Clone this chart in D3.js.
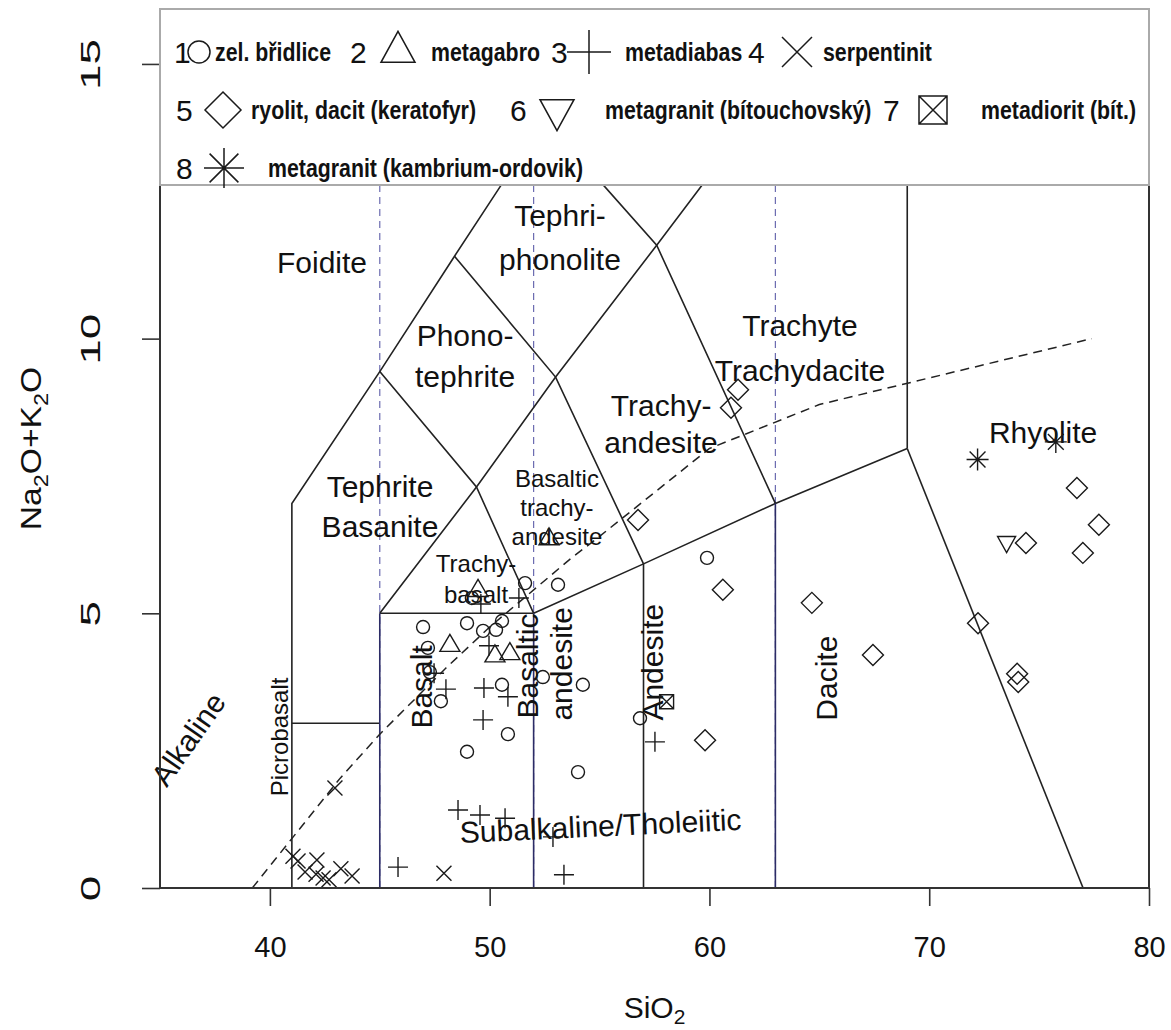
<!DOCTYPE html>
<html><head><meta charset="utf-8">
<script src="https://cdn.jsdelivr.net/npm/d3@7"></script>
<style>
html,body{margin:0;padding:0;background:#fff;}
svg{display:block;}
text{font-family:"Liberation Sans",Arial,Helvetica,sans-serif;fill:#111;}
</style></head><body>
<svg id="chart" width="1171" height="1030"></svg>
<script>
// TAS (total alkali vs. silica) diagram with metamorphic rock samples

const xTicks = [40, 50, 60, 70, 80];
const yTicks = [0, 5, 10, 15];

// field boundaries as [SiO2, Na2O+K2O] polylines
const fieldLines = [
  [[41,0],[41,7],[45,9.4],[48.4,11.5],[52.5,14]],
  [[41,3],[45,3]],
  [[45,5],[52,5]],
  [[45,5],[49.4,7.3],[53,9.3],[57.6,11.7],[61,13.5],[63,14.56]],
  [[45,9.4],[49.4,7.3],[52,5]],
  [[48.4,11.5],[53,9.3],[57,5.9]],
  [[52.5,14],[57.6,11.7],[63,7]],
  [[52,5],[57,5.9],[63,7],[69,8]],
  [[57,0],[57,5.9]],
  [[69,8],[69,16]],
  [[69,8],[77,0]]
];
const navyLines = [
  [[45,0],[45,5]],
  [[52,0],[52,5]],
  [[63,0],[63,7]]
];
const guideSiO2 = [45, 52, 63];
// alkaline / subalkaline divide
const alkDivide = [[39.2,0],[40,0.4],[43.2,2],[45,2.8],[48,4],[50,4.75],[53.7,6],[55,6.4],[60,8],[65,8.8],[77.4,10]];

// samples
const zelBridlice = [[51.61,5.55],[53.11,5.52],[49.19,5.28],[46.97,4.75],[48.97,4.82],[49.70,4.68],[50.29,4.70],[50.56,4.86],[47.19,4.37],[47.28,3.93],[47.78,3.40],[50.56,3.70],[52.42,3.84],[54.24,3.70],[50.83,2.80],[48.97,2.48],[54.02,2.11],[59.89,6.01],[56.84,3.09]];
const metagabro = [[49.47,5.41],[48.19,4.41],[50.24,4.22],[50.92,4.26],[52.70,6.35]];
const metadiabas = [[49.60,5.17],[51.33,5.28],[49.97,4.41],[47.47,3.91],[48.01,3.62],[49.74,3.64],[50.83,3.48],[49.70,3.06],[48.56,1.42],[49.56,1.33],[50.70,1.27],[52.88,0.93],[45.83,0.38],[53.38,0.24],[57.52,2.66]];
const serpentinit = [[42.96,1.82],[41.05,0.58],[41.28,0.49],[41.60,0.29],[42.14,0.51],[42.10,0.25],[42.42,0.18],[42.69,0.15],[43.23,0.35],[43.74,0.22],[47.92,0.27]];
const keratofyr = [[61.30,9.07],[60.98,8.74],[56.75,6.70],[60.61,5.43],[64.66,5.19],[67.44,4.24],[59.80,2.69],[76.72,7.28],[77.72,6.61],[74.40,6.28],[76.99,6.10],[72.22,4.82],[74.00,3.90],[74.05,3.75]];
const metagranitBit = [[73.52,6.30]];
const metadiorit = [[58.05,3.39]];
const metagranitKO = [[72.20,7.80],[75.76,8.12]];

const regionLabels = [
  {t:"Foidite", x:42.37, y:11.20, s:30},
  {t:"Tephri-", x:53.2, y:12.05, s:30},
  {t:"phonolite", x:53.2, y:11.25, s:30},
  {t:"Phono-", x:48.88, y:9.87, s:30},
  {t:"tephrite", x:48.88, y:9.12, s:30},
  {t:"Trachyte", x:64.12, y:10.05, s:30},
  {t:"Trachydacite", x:64.12, y:9.23, s:30},
  {t:"Trachy-", x:57.80, y:8.59, s:30},
  {t:"andesite", x:57.80, y:7.92, s:30},
  {t:"Rhyolite", x:75.18, y:8.10, s:30},
  {t:"Tephrite", x:45.01, y:7.12, s:30},
  {t:"Basanite", x:45.01, y:6.39, s:30},
  {t:"Basaltic", x:53.06, y:7.30, s:24},
  {t:"trachy-", x:53.06, y:6.77, s:24},
  {t:"andesite", x:53.06, y:6.24, s:24},
  {t:"Trachy-", x:49.38, y:5.75, s:24},
  {t:"basalt", x:49.38, y:5.19, s:24},
  {t:"Picrobasalt", x:40.82, y:2.75, s:24, r:-90},
  {t:"Basalt", x:47.38, y:3.66, s:30, r:-90},
  {t:"Basaltic", x:52.20, y:4.04, s:30, r:-90},
  {t:"andesite", x:53.75, y:4.08, s:30, r:-90},
  {t:"Andesite", x:57.89, y:4.11, s:30, r:-90},
  {t:"Dacite", x:65.80, y:3.82, s:30, r:-90},
  {t:"Subalkaline/Tholeiitic", x:55.07, y:0.94, s:30, r:-2.7},
  {t:"Alkaline", x:36.68, y:2.60, s:30, r:-55}
];

const svg = d3.select("#chart");
const x = d3.scaleLinear().domain([35, 80]).range([160, 1149]);
const y = d3.scaleLinear().domain([0, 16]).range([888, 9]);
const line = d3.line().x(d => x(d[0])).y(d => y(d[1]));
const ink = "#1a1a1a";

// light vertical guides
svg.append("g").selectAll("line").data(guideSiO2).join("line")
  .attr("x1", d => x(d)).attr("x2", d => x(d))
  .attr("y1", y(0)).attr("y2", y(16))
  .attr("stroke", "#6b6bb0").attr("stroke-width", 1.2)
  .attr("stroke-dasharray", "7,5");

// field boundaries
svg.append("g").selectAll("path").data(fieldLines).join("path")
  .attr("d", line).attr("fill", "none")
  .attr("stroke", "#222").attr("stroke-width", 1.6);
svg.append("g").selectAll("path").data(navyLines).join("path")
  .attr("d", line).attr("fill", "none")
  .attr("stroke", "#2c2c66").attr("stroke-width", 1.6);

// alkaline / subalkaline divide
svg.append("path").datum(alkDivide)
  .attr("d", line).attr("fill", "none")
  .attr("stroke", "#222").attr("stroke-width", 1.5)
  .attr("stroke-dasharray", "9,6");

// field names
svg.append("g").selectAll("text").data(regionLabels).join("text")
  .attr("transform", d => `translate(${x(d.x)},${y(d.y)})` + (d.r ? ` rotate(${d.r})` : ""))
  .attr("text-anchor", "middle")
  .attr("font-size", d => d.s)
  .text(d => d.t);

// symbol shapes
function circlePath(r){ return `M${r},0A${r},${r} 0 1,1 ${-r},0A${r},${r} 0 1,1 ${r},0Z`; }
const shapes = {
  triUp: (a, h) => `M0,${-h*2/3}L${a},${h/3}L${-a},${h/3}Z`,
  triDown: (a, h) => `M0,${h*2/3}L${a},${-h/3}L${-a},${-h/3}Z`,
  plus: s => `M${-s},0H${s}M0,${-s}V${s}`,
  cross: s => `M${-s},${-s}L${s},${s}M${-s},${s}L${s},${-s}`,
  diamond: s => `M0,${-s}L${s},0L0,${s}L${-s},0Z`,
  boxX: s => `M${-s},${-s}H${s}V${s}H${-s}ZM${-s},${-s}L${s},${s}M${-s},${s}L${s},${-s}`,
  asterisk: s => { const d = s*0.72; return `M${-s},0H${s}M0,${-s}V${s}M${-d},${-d}L${d},${d}M${-d},${d}L${d},${-d}`; }
};

const series = [
  {data: zelBridlice, d: circlePath(6.5)},
  {data: metagabro, d: shapes.triUp(10, 17)},
  {data: metadiabas, d: shapes.plus(10)},
  {data: serpentinit, d: shapes.cross(7.5)},
  {data: keratofyr, d: shapes.diamond(10.5)},
  {data: metagranitBit, d: shapes.triDown(9, 16)},
  {data: metadiorit, d: shapes.boxX(7)},
  {data: metagranitKO, d: shapes.asterisk(11)}
];
const pts = svg.append("g");
series.forEach(sr => {
  pts.append("g").selectAll("path").data(sr.data).join("path")
    .attr("transform", d => `translate(${x(d[0])},${y(d[1])})`)
    .attr("d", sr.d).attr("fill", "none")
    .attr("stroke", ink).attr("stroke-width", 1.4);
});

// frame
svg.append("rect")
  .attr("x", x(35)).attr("y", y(16))
  .attr("width", x(80) - x(35)).attr("height", y(0) - y(16))
  .attr("fill", "none").attr("stroke", "#333").attr("stroke-width", 2);

// axes
const gx = svg.append("g").attr("transform", `translate(0,${y(0)})`)
  .call(d3.axisBottom(x).tickValues(xTicks).tickSize(18).tickSizeOuter(0).tickPadding(30));
const gy = svg.append("g").attr("transform", `translate(${x(35)},0)`)
  .call(d3.axisLeft(y).tickValues(yTicks).tickSize(18).tickSizeOuter(0));
[gx, gy].forEach(g => {
  g.select(".domain").remove();
  g.selectAll(".tick line").attr("stroke", "#333").attr("stroke-width", 1.6);
  g.selectAll(".tick text").attr("font-family", "Liberation Sans, Arial, sans-serif")
    .attr("font-size", 29).attr("fill", "#111");
});
// y tick labels run along the axis, drawn tall
gy.selectAll(".tick text")
  .attr("x", null).attr("dy", null)
  .attr("font-size", 27)
  .attr("text-anchor", "middle")
  .attr("transform", "translate(-60,0) rotate(-90) scale(1.7,1)");

// axis titles
const xt = svg.append("text").attr("x", (x(35) + x(80)) / 2).attr("y", 1018)
  .attr("text-anchor", "middle").attr("font-size", 30);
xt.append("tspan").text("SiO");
xt.append("tspan").attr("font-size", 21).attr("dy", 6).text("2");

const yt = svg.append("text")
  .attr("transform", `translate(41,${(y(0) + y(16)) / 2}) rotate(-90) scale(1.12,1)`)
  .attr("text-anchor", "middle").attr("font-size", 30);
yt.append("tspan").text("Na");
yt.append("tspan").attr("font-size", 21).attr("dy", 7).text("2");
yt.append("tspan").attr("dy", -7).text("O+K");
yt.append("tspan").attr("font-size", 21).attr("dy", 7).text("2");
yt.append("tspan").attr("dy", -7).text("O");

// legend
const lg = svg.append("g");
lg.append("rect").attr("x", x(35)).attr("y", y(16))
  .attr("width", x(80) - x(35)).attr("height", 176)
  .attr("fill", "#fff").attr("stroke", "#aaa").attr("stroke-width", 2);

const legendRows = [63, 121, 179];
const legendItems = [
  {n:"1", nx:174, sx:199, tx:215, row:0, d: circlePath(11), label:"zel. břidlice"},
  {n:"2", nx:350, sx:398, tx:431, row:0, d: shapes.triUp(17, 31), label:"metagabro"},
  {n:"3", nx:551, sx:589, tx:625, row:0, d: shapes.plus(22), label:"metadiabas"},
  {n:"4", nx:748, sx:797, tx:823, row:0, d: shapes.cross(15), label:"serpentinit"},
  {n:"5", nx:176, sx:223, tx:251, row:1, d: shapes.diamond(18), label:"ryolit, dacit (keratofyr)"},
  {n:"6", nx:510, sx:557, tx:605, row:1, d: shapes.triDown(17, 31), label:"metagranit (bítouchovský)"},
  {n:"7", nx:883, sx:933, tx:981, row:1, d: shapes.boxX(14), label:"metadiorit (bít.)"},
  {n:"8", nx:176, sx:224, tx:268, row:2, d: shapes.asterisk(20), label:"metagranit (kambrium-ordovik)"}
];
legendItems.forEach(it => {
  const by = legendRows[it.row];
  lg.append("text").attr("x", it.nx).attr("y", by).attr("font-size", 30).text(it.n);
  lg.append("path").attr("transform", `translate(${it.sx},${by - 11})`)
    .attr("d", it.d).attr("fill", "none").attr("stroke", ink).attr("stroke-width", 1.5);
  lg.append("text").attr("transform", `translate(${it.tx},${by - 2}) scale(0.82,1)`)
    .attr("font-size", 26).attr("font-weight", "bold").text(it.label);
});
</script>
</body></html>
